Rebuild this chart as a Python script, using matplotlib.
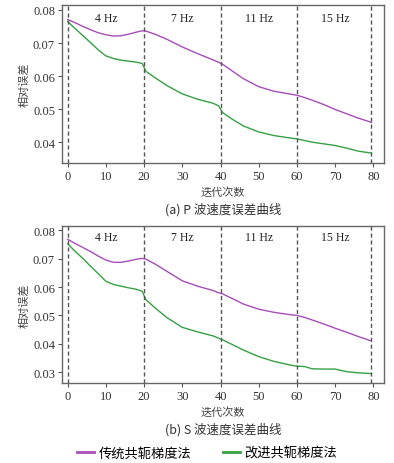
import matplotlib
matplotlib.use("Agg")
import matplotlib.pyplot as plt
from matplotlib.lines import Line2D
from matplotlib.ticker import FormatStrFormatter

CJK = ["Noto Sans CJK SC", "DejaVu Sans"]
SERIF = "Liberation Serif"
plt.rcParams["font.family"] = [SERIF, "DejaVu Sans"]

PURPLE = "#a64dba"
GREEN = "#36a043"
GRID = "#555555"
TEXT = "#333333"

# iteration numbers where values were read
iters = [0, 2, 4, 6, 8, 10, 12, 14, 16, 18, 19.5, 20.5, 23, 26, 30, 34, 38, 39.5,
         40.5, 43, 46, 50, 54, 58, 60, 62, 64, 67, 70, 73, 76, 79.5]

p_cg = [0.0771, 0.0761, 0.0750, 0.0740, 0.0731, 0.0725, 0.0721, 0.0722, 0.0727, 0.0733,
        0.0737, 0.0736, 0.0726, 0.0711, 0.0688, 0.0668, 0.0649, 0.0642, 0.0636, 0.0616,
        0.0592, 0.0568, 0.0554, 0.0546, 0.0542, 0.0535, 0.0527, 0.0514, 0.0499, 0.0486,
        0.0473, 0.0460]
p_icg = [0.0765, 0.0743, 0.0722, 0.0701, 0.0679, 0.0661, 0.0653, 0.0648, 0.0645, 0.0642,
         0.0638, 0.0614, 0.0594, 0.0571, 0.0546, 0.0530, 0.0518, 0.0510, 0.0490, 0.0470,
         0.0449, 0.0431, 0.0420, 0.0413, 0.0410, 0.0405, 0.0400, 0.0395, 0.0390, 0.0382,
         0.0373, 0.0367]
s_cg = [0.0768, 0.0753, 0.0739, 0.0725, 0.0709, 0.0695, 0.0687, 0.0687, 0.0692, 0.0698,
        0.0701, 0.0698, 0.0680, 0.0655, 0.0622, 0.0603, 0.0588, 0.0580, 0.0576, 0.0560,
        0.0540, 0.0522, 0.0511, 0.0503, 0.0500, 0.0493, 0.0484, 0.0470, 0.0455, 0.0441,
        0.0426, 0.0410]
s_icg = [0.0752, 0.0725, 0.0700, 0.0673, 0.0647, 0.0620, 0.0609, 0.0603, 0.0597, 0.0592,
         0.0585, 0.0555, 0.0525, 0.0492, 0.0458, 0.0442, 0.0428, 0.0420, 0.0414, 0.0398,
         0.0378, 0.0355, 0.0338, 0.0326, 0.0321, 0.0320, 0.0312, 0.0311, 0.0311, 0.0302,
         0.0298, 0.0295]

stage_bounds = [0, 20, 40, 60, 79.5]
stage_labels = ["4 Hz", "7 Hz", "11 Hz", "15 Hz"]
stage_centers = [10, 30, 50, 70]
x_ticks = [0, 10, 20, 30, 40, 50, 60, 70, 80]

legend_names = ["传统共轭梯度法", "改进共轭梯度法"]


def draw_panel(ax, cg, icg, ylim, yticks, caption):
    ax.plot(iters, cg, color=PURPLE, lw=1.0)
    ax.plot(iters, icg, color=GREEN, lw=1.0)
    for xb in stage_bounds:
        ax.axvline(xb, color=GRID, lw=1.0, ls=(0, (3, 2)))
    for xc, lab in zip(stage_centers, stage_labels):
        ax.text(xc, ylim[1] - 0.0038, lab, ha="center", va="center",
                fontsize=8.5, color="#222222")
    ax.set_xlim(-1.5, 82.8)
    ax.set_ylim(*ylim)
    ax.set_xticks(x_ticks)
    ax.set_yticks(yticks)
    ax.yaxis.set_major_formatter(FormatStrFormatter("%.2f"))
    ax.tick_params(direction="out", length=3, width=0.8, colors="#555555",
                   labelcolor=TEXT, labelsize=9, pad=2)
    for sp in ax.spines.values():
        sp.set_color("#666666")
        sp.set_linewidth(1.0)
    ax.set_xlabel("迭代次数", family=CJK, fontsize=8, color="#444444", labelpad=3)
    ax.set_ylabel("相对误差", family=CJK, fontsize=8, color="#444444")
    ax.yaxis.set_label_coords(-0.1, 0.5)
    ax.text(0.5, -0.29, caption, transform=ax.transAxes, ha="center", va="center",
            family=CJK, fontsize=9, color="#333333")


fig = plt.figure(figsize=(3.94, 4.64), dpi=100)
ax1 = fig.add_axes([62 / 394, 1 - 164 / 464, 322 / 394, 158 / 464])
ax2 = fig.add_axes([62 / 394, 1 - 384 / 464, 322 / 394, 157 / 464])

draw_panel(ax1, p_cg, p_icg, (0.0337, 0.0815), [0.04, 0.05, 0.06, 0.07, 0.08],
           "(a) P 波速度误差曲线")
draw_panel(ax2, s_cg, s_icg, (0.0262, 0.0815), [0.03, 0.04, 0.05, 0.06, 0.07, 0.08],
           "(b) S 波速度误差曲线")

handles = [Line2D([], [], color=PURPLE, lw=2), Line2D([], [], color=GREEN, lw=2)]
fig.legend(handles, legend_names, loc="center", bbox_to_anchor=(0.525, 1 - 454 / 464),
           ncol=2, frameon=False, handlelength=1.3, handletextpad=0.3,
           columnspacing=2.4, prop={"family": CJK, "size": 9.5})

fig.savefig("out.png", dpi=100)
